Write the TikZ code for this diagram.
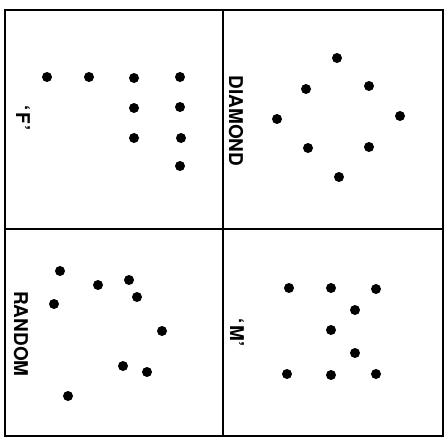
\documentclass[tikz,border=0pt]{standalone}
\usepackage{fontspec}
\newfontfamily\labfont{TeX Gyre Heros}
\tikzset{
  dot/.style={circle,fill=black,draw=none,minimum size=10pt,inner sep=0pt},
  panel/.style={line width=2pt,draw=black},
  lab/.style={rotate=-90,inner sep=0pt,font=\labfont\bfseries\fontsize{19}{19}\selectfont}
}
\begin{document}
\begin{tikzpicture}[x=1pt,y=-1pt]
\useasboundingbox (0,0) rectangle (448,437);
\fill[white] (0,0) rectangle (448,437);
% frame
\coordinate (tl) at (5,10);
\coordinate (tr) at (443,10);
\coordinate (bl) at (5,436);
\coordinate (br) at (443,436);
\coordinate (tm) at (223,10);
\coordinate (bm) at (223,436);
\coordinate (ml) at (5,229);
\coordinate (mr) at (443,229);
\draw[panel] (tl) -- (tr) -- (br) -- (bl) -- cycle;
\draw[panel] (tm) -- (bm);
\draw[panel] (ml) -- (mr);
% labels
\node[lab] (lF) at (23,118) {‘\kern1.5pt F\kern1.5pt’};
\node[lab] (lD) at (236,121) {DIAMOND};
\node[lab] (lR) at (21,334) {RANDOM};
\node[lab] (lM) at (237,333) {‘\kern1pt M\kern1pt’};
% F dots
\node[dot] (f1) at (47,77) {};
\node[dot] (f2) at (89,77) {};
\node[dot] (f3) at (134,78) {};
\node[dot] (f4) at (180,77) {};
\node[dot] (f5) at (134,108) {};
\node[dot] (f6) at (180,107) {};
\node[dot] (f7) at (134,138) {};
\node[dot] (f8) at (181,138) {};
\node[dot] (f9) at (180,166) {};
% diamond dots
\node[dot] (d1) at (337,58) {};
\node[dot] (d2) at (306,89) {};
\node[dot] (d3) at (369,86) {};
\node[dot] (d4) at (277,119) {};
\node[dot] (d5) at (400,116) {};
\node[dot] (d6) at (308,148) {};
\node[dot] (d7) at (369,147) {};
\node[dot] (d8) at (339,177) {};
% random dots
\node[dot] (r1) at (60,271) {};
\node[dot] (r2) at (98,285) {};
\node[dot] (r3) at (129,280) {};
\node[dot] (r4) at (137,297) {};
\node[dot] (r5) at (54,304) {};
\node[dot] (r6) at (162,331) {};
\node[dot] (r7) at (123,366) {};
\node[dot] (r8) at (147,372) {};
\node[dot] (r9) at (68,396) {};
% M dots
\node[dot] (m1) at (289,288) {};
\node[dot] (m2) at (331,288) {};
\node[dot] (m3) at (376,289) {};
\node[dot] (m4) at (355,310) {};
\node[dot] (m5) at (331,330) {};
\node[dot] (m6) at (355,353) {};
\node[dot] (m7) at (287,374) {};
\node[dot] (m8) at (331,375) {};
\node[dot] (m9) at (376,374) {};
\end{tikzpicture}
\end{document}
